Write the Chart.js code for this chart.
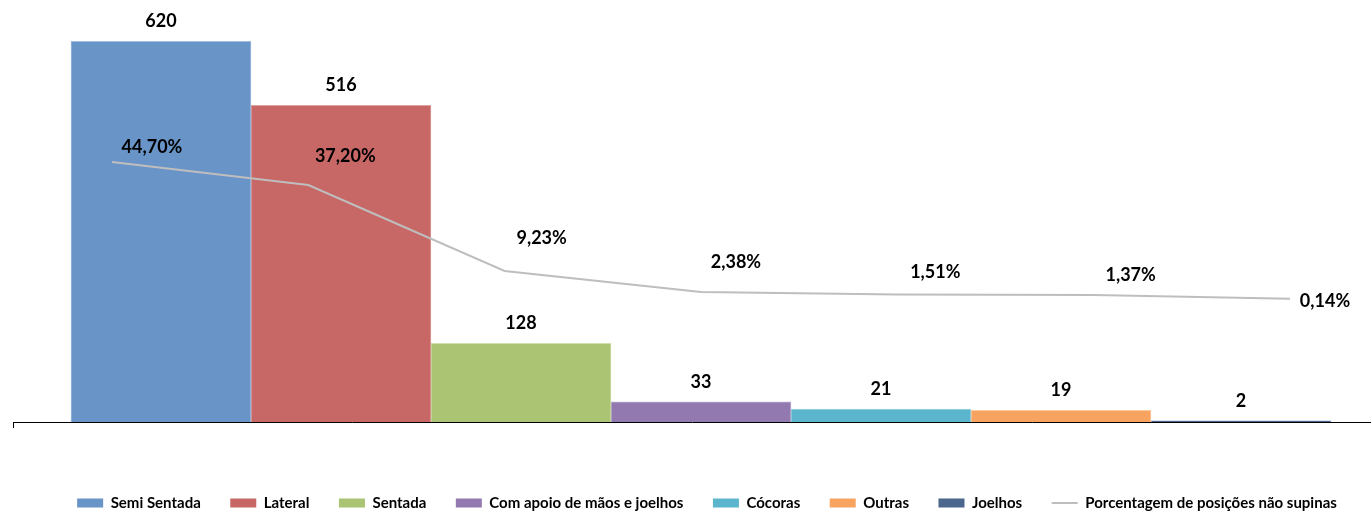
<!DOCTYPE html>
<html>
<head>
<meta charset="utf-8">
<script src="https://cdn.jsdelivr.net/npm/chart.js@4.4.1/dist/chart.umd.min.js"></script>
<style>
  html, body { margin: 0; padding: 0; background: #fff; }
  #wrap { width: 1371px; height: 513px; position: relative; }
</style>
</head>
<body>
<div id="wrap"><canvas id="myChart"></canvas></div>
<script>
// Posições de parto
const positions = ['Semi Sentada', 'Lateral', 'Sentada', 'Com apoio de mãos e joelhos', 'Cócoras', 'Outras', 'Joelhos'];
const counts = [620, 516, 128, 33, 21, 19, 2];
const percentages = [44.70, 37.20, 9.23, 2.38, 1.51, 1.37, 0.14];
const lineLabel = 'Porcentagem de posições não supinas';

// Cores
const barColors = ['#6894C7', '#C86866', '#AAC473', '#927AB0', '#5BB5CD', '#F8A460', '#4A668C'];
const barEdges = ['#A3BFE0', '#E0A3A1', '#CEDFAA', '#BCAED0', '#A0D6E5', '#FBCBA2', '#8197B5'];
const lineColor = '#BEBEBE';

// deslocamento dos rótulos de % em relação a cada ponto
const pctOffsets = [[40, -15], [37, -29], [37, -33], [35, -30], [38, -22], [37, -20], [35, 2]];

const labelFont = 'bold 18px Lato';
const groupX = (percentages.length - 1) / 2;

function fmtPct(v) {
  return v.toFixed(2).replace('.', ',') + '%';
}

//Rótulos de valores
const valueLabels = {
  id: 'valueLabels',
  afterDatasetsDraw(chart) {
    const ctx = chart.ctx;
    ctx.save();
    ctx.font = labelFont;
    ctx.fillStyle = '#000';
    ctx.textAlign = 'center';
    ctx.textBaseline = 'middle';
    chart.data.datasets.forEach(function (ds, i) {
      const meta = chart.getDatasetMeta(i);
      if (ds.type === 'line') {
        meta.data.forEach(function (pt, j) {
          ctx.fillText(fmtPct(percentages[j]), pt.x + pctOffsets[j][0], pt.y + pctOffsets[j][1]);
        });
      } else {
        const bar = meta.data[0];
        ctx.fillText(String(counts[i]), bar.x, bar.y - 20);
      }
    });
    ctx.restore();
  }
};

// legenda um pouco deslocada para a direita
const legendShift = {
  id: 'legendShift',
  afterLayout(chart) {
    chart.legend.left += 15;
    chart.legend.right += 15;
  }
};

var datasets = positions.map(function (name, i) {
  return {
    type: 'bar',
    label: name,
    data: [{ x: groupX, y: counts[i] }],
    backgroundColor: barColors[i],
    borderColor: barEdges[i],
    borderWidth: 1,
    barThickness: 180,
    yAxisID: 'y'
  };
});

datasets.push({
  type: 'line',
  label: lineLabel,
  data: percentages.map(function (v, i) { return { x: i, y: v }; }),
  borderColor: lineColor,
  backgroundColor: lineColor,
  borderWidth: 2,
  pointRadius: 0,
  tension: 0,
  yAxisID: 'yPct',
  order: -1
});

var ctx = document.getElementById('myChart').getContext('2d');
var myChart = new Chart(ctx, {
  data: { datasets: datasets },
  plugins: [valueLabels, legendShift],
  options: {
    responsive: true,
    maintainAspectRatio: false,
    animation: false,
    layout: { padding: { top: 23, left: 13, right: 0, bottom: -7.5 } },
    plugins: {
      tooltip: { enabled: false },
      legend: {
        position: 'bottom',
        labels: {
          usePointStyle: true,
          pointStyleWidth: 26,
          boxHeight: 9,
          padding: 29.5,
          color: '#000',
          font: { family: 'Lato', size: 15, weight: 'bold' },
          generateLabels: function (chart) {
            return chart.data.datasets.map(function (ds, i) {
              const isLine = ds.type === 'line';
              return {
                text: ds.label,
                fillStyle: isLine ? lineColor : ds.backgroundColor,
                strokeStyle: isLine ? lineColor : ds.backgroundColor,
                lineWidth: isLine ? 2 : 0,
                pointStyle: isLine ? 'line' : 'rect',
                fontColor: '#000',
                hidden: false,
                datasetIndex: i
              };
            });
          }
        }
      }
    },
    scales: {
      x: {
        type: 'linear',
        offset: false,
        min: -0.504,
        max: 6.4126,
        grid: { display: true, offset: false, drawOnChartArea: false, drawTicks: true, tickLength: 6, color: '#000' },
        border: { display: true, color: '#000', width: 1 },
        ticks: { display: false },
        afterBuildTicks: function (scale) { scale.ticks = [{ value: scale.min }]; },
        afterFit: function (scale) { scale.height = 44; }
      },
      y: { display: false, min: 0, max: 650 },
      yPct: { display: false, position: 'right', min: -40, max: 90 }
    }
  }
});
</script>
</body>
</html>
